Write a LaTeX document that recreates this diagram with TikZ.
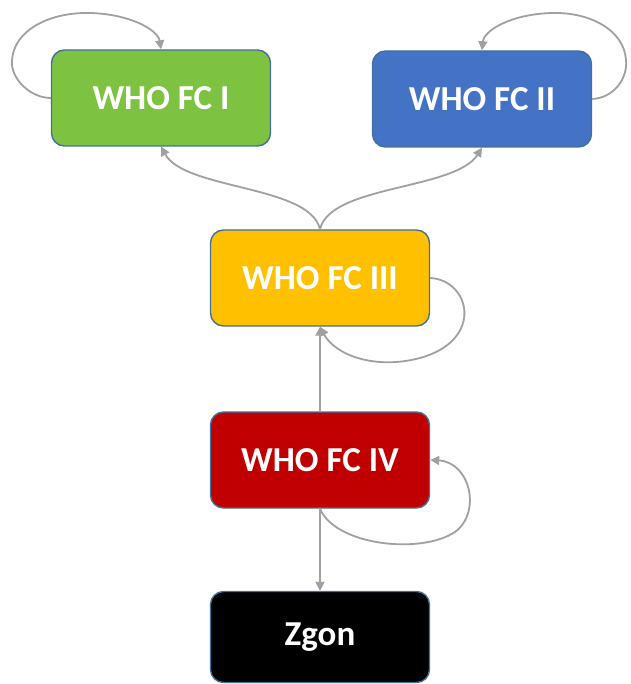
\documentclass[tikz,border=0pt]{standalone}
\usepackage{fontspec}
\setmainfont{Carlito}
\usetikzlibrary{arrows.meta}
\definecolor{fcgreen}{RGB}{126,194,66}
\definecolor{fcblue}{RGB}{68,114,196}
\definecolor{fcorange}{RGB}{255,192,0}
\definecolor{fcred}{RGB}{192,0,0}
\definecolor{fcborder}{RGB}{65,113,156}
\definecolor{arrgray}{RGB}{160,160,160}
\tikzset{
  statebox/.style={draw=fcborder, line width=1.4pt, rounded corners=13pt,
    minimum width=219pt, minimum height=96pt, text=white,
    font=\fontsize{35}{38}\selectfont\bfseries, inner sep=0pt},
  arr/.style={draw=arrgray, line width=1.8pt, -{Triangle[length=9pt,width=9pt]}}
}
\begin{document}
\begin{tikzpicture}[x=1pt,y=-1pt]
\useasboundingbox (0,0) rectangle (630,684);
\node[statebox, fill=fcgreen] (I) at (161,98) {WHO FC I};
\node[statebox, fill=fcblue] (II) at (482,99) {WHO FC II};
\node[statebox, fill=fcorange] (III) at (320,278) {WHO FC III};
\node[statebox, fill=fcred] (IV) at (320,460) {WHO FC IV};
\node[statebox, fill=black, minimum height=91pt] (Z) at (320,637) {Zgon};
% self loops
\draw[arr] (I.west) .. controls (30,98) and (10,78) .. (12,60)
  .. controls (14,30) and (50,12) .. (90,13)
  .. controls (130,14) and (158,30) .. (I.north);
\draw[arr] (II.east) .. controls (614,98) and (628,78) .. (626,60)
  .. controls (624,30) and (590,12) .. (552,13)
  .. controls (512,14) and (484,30) .. (II.north);
\draw[arr] (III.east) .. controls (470,280) and (485,340) .. (420,358)
  .. controls (375,370) and (335,355) .. (III.south);
\draw[arr] (IV.south) .. controls (335,545) and (420,555) .. (455,532)
  .. controls (482,512) and (470,462) .. (IV.east);
% transitions
\draw[arr] (III.north) .. controls (310,185) and (185,190) .. (I.south);
\draw[arr] (III.north) .. controls (330,185) and (455,190) .. (II.south);
\draw[arr] (IV.north) -- (III.south);
\draw[arr] (IV.south) -- (Z.north);
\end{tikzpicture}
\end{document}
